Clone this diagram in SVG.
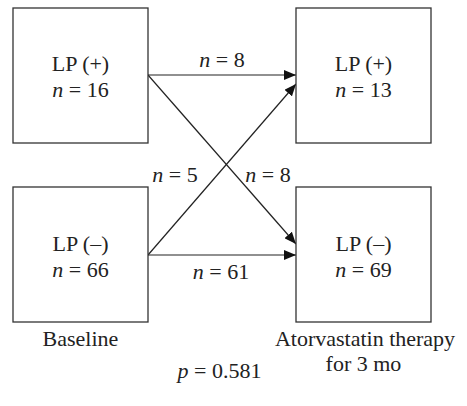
<svg xmlns="http://www.w3.org/2000/svg" width="467" height="406" viewBox="0 0 467 406">
<style>
.box{fill:#fff;stroke:#333;stroke-width:1.3}
.t{font-family:"Liberation Serif","Times New Roman",serif;font-size:22px;fill:#222;text-anchor:middle}
.i{font-style:italic}
.c{stroke:#222;stroke-width:1.2;fill:none}
</style>
<defs>
<marker id="ah" markerWidth="12" markerHeight="10" refX="12" refY="5" orient="auto" markerUnits="userSpaceOnUse">
<path d="M0,0 L12,5 L0,10 z" fill="#111"/>
</marker>
</defs>
<rect width="467" height="406" fill="#fff"/>
<g id="connectors">
<line class="c" x1="148" y1="75" x2="296" y2="75" marker-end="url(#ah)"/>
<line class="c" x1="148" y1="75" x2="296" y2="244" marker-end="url(#ah)"/>
<line class="c" x1="148" y1="255" x2="296" y2="84" marker-end="url(#ah)"/>
<line class="c" x1="148" y1="255" x2="296" y2="255" marker-end="url(#ah)"/>
<text class="t" x="222" y="67"><tspan class="i">n</tspan> = 8</text>
<text class="t" x="175" y="182"><tspan class="i">n</tspan> = 5</text>
<text class="t" x="268" y="182"><tspan class="i">n</tspan> = 8</text>
<text class="t" x="221" y="279"><tspan class="i">n</tspan> = 61</text>
</g>
<g id="tl">
<rect class="box" x="13" y="8" width="135" height="135"/>
<text class="t" x="80.5" y="71">LP (+)</text>
<text class="t" x="80.5" y="97"><tspan class="i">n</tspan> = 16</text>
</g>
<g id="tr">
<rect class="box" x="296" y="8" width="135" height="135"/>
<text class="t" x="363.5" y="71">LP (+)</text>
<text class="t" x="363.5" y="97"><tspan class="i">n</tspan> = 13</text>
</g>
<g id="bl">
<rect class="box" x="13" y="187" width="135" height="135"/>
<text class="t" x="80.5" y="251">LP (–)</text>
<text class="t" x="80.5" y="277"><tspan class="i">n</tspan> = 66</text>
</g>
<g id="br">
<rect class="box" x="296" y="187" width="135" height="135"/>
<text class="t" x="363.5" y="251">LP (–)</text>
<text class="t" x="363.5" y="277"><tspan class="i">n</tspan> = 69</text>
</g>
<g id="labels">
<text class="t" x="80.5" y="346">Baseline</text>
<text class="t" x="365" y="346">Atorvastatin therapy</text>
<text class="t" x="363.5" y="371">for 3 mo</text>
<text class="t" x="219.5" y="378"><tspan class="i">p</tspan> = 0.581</text>
</g>
</svg>
